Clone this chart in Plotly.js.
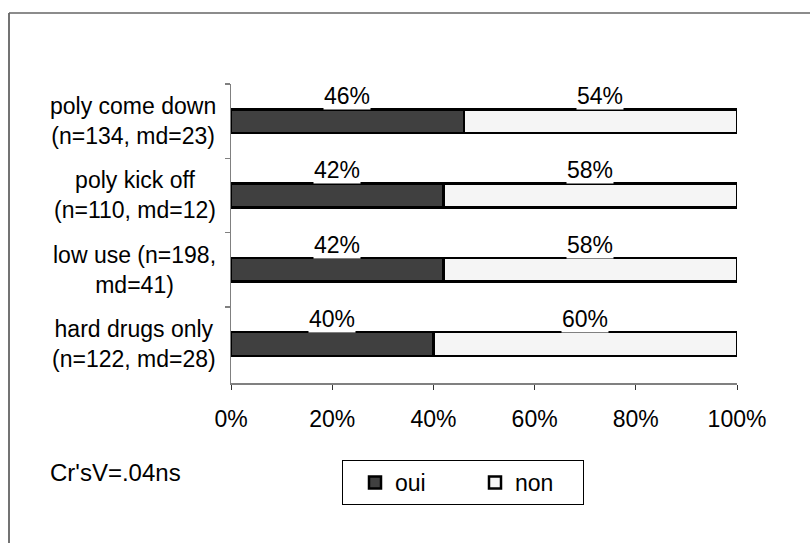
<!DOCTYPE html>
<html>
<head>
<meta charset="utf-8">
<script src="https://cdn.plot.ly/plotly-3.0.1.min.js"></script>
<style>
html,body{margin:0;padding:0;background:#fff;overflow:hidden;}
#chart{width:810px;height:543px;}
</style>
</head>
<body>
<div id="chart"></div>
<script>
// ---- data ----
const categories = ["poly come down", "poly kick off", "low use", "hard drugs only"];
const categoryLabels = [
  "poly come down<br>(n=134, md=23)",
  "poly kick off<br>(n=110, md=12)",
  "low use (n=198,<br>md=41)",
  "hard drugs only<br>(n=122, md=28)"
];
const oui = [46, 42, 42, 40];
const non = [54, 58, 58, 60];
const seriesNames = ["oui", "non"];
const xTickVals = [0, 20, 40, 60, 80, 100];
const xTickText = ["0%", "20%", "40%", "60%", "80%", "100%"];
const noteText = "Cr'sV=.04ns";

// ---- layout constants (pixels) ----
const W = 810, H = 543;
const L = 231, R = 73, T = 84, B = 160;
const pw = W - L - R, ph = H - T - B;
const px2x = p => (p - L) / pw;
const py2y = p => (H - B - p) / ph;

const FONT = "Liberation Sans, Arial, Helvetica, sans-serif";

const traces = [
  {
    type: "bar", orientation: "h", name: seriesNames[0],
    y: categories, x: oui,
    marker: {color: "#404040", line: {color: "#000", width: 2.5}},
    hoverinfo: "none"
  },
  {
    type: "bar", orientation: "h", name: seriesNames[1],
    y: categories, x: non,
    marker: {color: "#f5f5f5", line: {color: "#000", width: 2.5}},
    hoverinfo: "none"
  }
];

const annotations = [];
// value labels above each segment
categories.forEach((c, i) => {
  annotations.push({
    x: oui[i] / 2, y: c, xref: "x", yref: "y",
    text: oui[i] + "%", showarrow: false, yshift: 25,
    bgcolor: "#fff", borderpad: 0,
    font: {family: FONT, size: 23, color: "#000"}
  });
  annotations.push({
    x: oui[i] + non[i] / 2, y: c, xref: "x", yref: "y",
    text: non[i] + "%", showarrow: false, yshift: 25,
    bgcolor: "#fff", borderpad: 0,
    font: {family: FONT, size: 23, color: "#000"}
  });
  // category labels (centered multi-line)
  annotations.push({
    x: px2x(218), y: c, xref: "paper", yref: "y",
    xanchor: "right", align: "center",
    text: categoryLabels[i], showarrow: false,
    font: {family: FONT, size: 23, color: "#000"}
  });
});
annotations.push({
  x: px2x(48), y: py2y(472), xref: "paper", yref: "paper",
  xanchor: "left", yanchor: "middle",
  text: noteText, showarrow: false,
  font: {family: FONT, size: 24, color: "#000"}
});

const layout = {
  width: W, height: H,
  margin: {l: L, r: R, t: T, b: B, pad: 0},
  paper_bgcolor: "#fff", plot_bgcolor: "#fff",
  barmode: "stack", bargap: 0.68,
  showlegend: true,
  font: {family: FONT, size: 23, color: "#000"},
  xaxis: {
    range: [0, 100], tickmode: "array", tickvals: xTickVals, ticktext: xTickText,
    showgrid: false, zeroline: false,
    showline: true, linecolor: "#808080", linewidth: 1.5,
    ticks: "outside", ticklen: 5, tickcolor: "#333", tickwidth: 1,
    ticklabelstandoff: 10,
    tickfont: {family: FONT, size: 23, color: "#000"},
    fixedrange: true
  },
  yaxis: {
    type: "category", categoryorder: "array", categoryarray: categories,
    autorange: "reversed",
    showgrid: false, zeroline: false,
    showline: true, linecolor: "#808080", linewidth: 1.5,
    ticks: "outside", tickson: "boundaries", ticklen: 5, tickcolor: "#808080", tickwidth: 1.5,
    showticklabels: false,
    fixedrange: true
  },
  legend: {
    orientation: "h",
    x: px2x(342), y: py2y(460), xanchor: "left", yanchor: "top",
    bordercolor: "#000", borderwidth: 1, bgcolor: "#fff",
    font: {family: FONT, size: 23, color: "#000"},
    indentation: 12,
    entrywidth: 63, entrywidthmode: "pixels",
    traceorder: "normal"
  },
  annotations: annotations,
  shapes: [
    {type: "line", xref: "paper", yref: "paper",
     x0: px2x(9), x1: px2x(9), y0: py2y(13), y1: py2y(560),
     line: {color: "#444", width: 1.5}},
    {type: "line", xref: "paper", yref: "paper",
     x0: px2x(9), x1: px2x(830), y0: py2y(13), y1: py2y(13),
     line: {color: "#666", width: 1.5}}
  ]
};

Plotly.newPlot("chart", traces, layout, {staticPlot: true, displayModeBar: false});
</script>
</body>
</html>
